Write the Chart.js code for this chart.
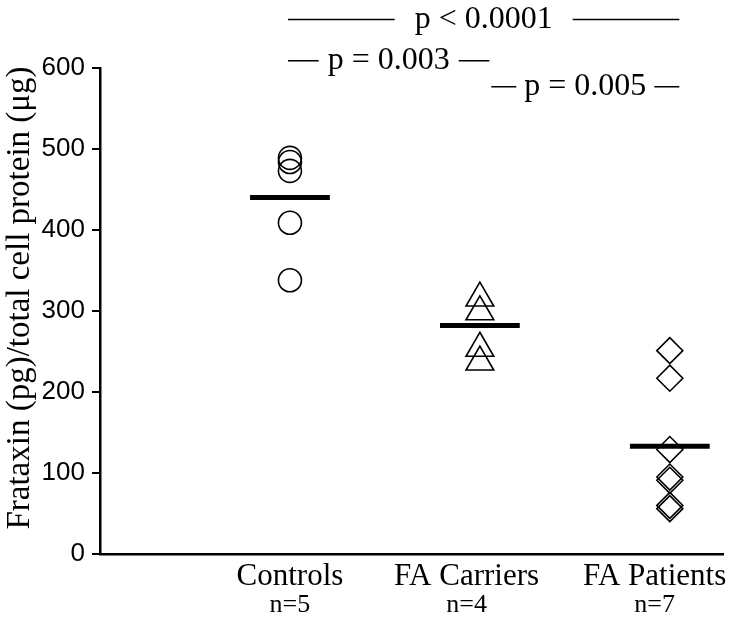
<!DOCTYPE html>
<html>
<head>
<meta charset="utf-8">
<script src="https://cdn.jsdelivr.net/npm/chart.js@4"></script>
<style>
  html, body { margin: 0; padding: 0; background: #fff; }
  #wrap { width: 750px; height: 619px; }
</style>
</head>
<body>
<div id="wrap"><canvas id="frataxinChart"></canvas></div>
<script>
// data
const groups = ["Controls", "FA Carriers", "FA Patients"];
const groupSizes = ["n=5", "n=4", "n=7"];
const controls = [489, 484, 473, 409, 338];
const carriers = [316, 299, 254, 237];
const patients = [251, 217, 129, 95, 91, 60, 56];
const groupMeans = [440, 282, 133];
const yTicks = [0, 100, 200, 300, 400, 500, 600];
const pValues = ["p < 0.0001", "p = 0.003", "p = 0.005"];
const yTitle = "Frataxin (pg)/total cell protein (μg)";

const serif = "'Liberation Serif', 'Times New Roman', serif";

// label centres under the axis, in group units (not quite under the marks)
const labelAt = [1.0, 1.93, 2.92];

// where each p-value bracket sits (x in group units, y in axis units)
const brackets = [
  { x0: 0.99, x1: 3.05, y: 660, gap: 20 },
  { x0: 0.99, x1: 2.05, y: 609, gap: 9 },
  { x0: 2.06, x1: 3.05, y: 577, gap: 8 },
];

function points(values, group) {
  return values.map(v => ({ x: group, y: v }));
}

let datasets = [
  { data: points(controls, 1), pointStyle: "circle", pointRadius: 11.5 },
  { data: points(carriers, 2), pointStyle: "triangle", pointRadius: 16 },
  { data: points(patients, 3), pointStyle: "rectRot", pointRadius: 13 },
].map(d => Object.assign(d, {
  borderColor: "#000",
  backgroundColor: "rgba(0,0,0,0)",
  pointBorderWidth: 1.6,
}));

// mean bars
groupMeans.forEach((m, i) => {
  datasets.push({
    data: [{ x: i + 1 - 0.21, y: m }, { x: i + 1 + 0.21, y: m }],
    showLine: true,
    borderColor: "#000",
    borderWidth: 5,
    pointRadius: 0,
    clip: false,
  });
});

const annotations = {
  id: "annotations",
  afterDraw(chart) {
    const { ctx, scales: { x, y } } = chart;
    ctx.save();
    ctx.fillStyle = "#000";
    ctx.strokeStyle = "#000";
    ctx.textAlign = "center";
    ctx.textBaseline = "middle";

    // y title, sits a little above the axis middle in the original
    ctx.save();
    ctx.translate(y.left + 20, y.getPixelForValue(316));
    ctx.rotate(-Math.PI / 2);
    ctx.font = "33px " + serif;
    ctx.fillText(yTitle, 0, 0);
    ctx.restore();

    // group names + sizes under the axis
    groups.forEach((g, i) => {
      const px = x.getPixelForValue(labelAt[i]);
      ctx.font = "31px " + serif;
      ctx.fillText(g, px, x.top + 23);
      ctx.font = "26px " + serif;
      ctx.fillText(groupSizes[i], px, x.top + 51);
    });

    // p-value brackets
    ctx.font = "32px " + serif;
    ctx.lineWidth = 1.5;
    pValues.forEach((txt, i) => {
      const b = brackets[i];
      const x0 = x.getPixelForValue(b.x0);
      const x1 = x.getPixelForValue(b.x1);
      const py = y.getPixelForValue(b.y);
      const mid = (x0 + x1) / 2;
      const half = ctx.measureText(txt).width / 2;
      ctx.fillText(txt, mid, py);
      ctx.beginPath();
      ctx.moveTo(x0, py);
      ctx.lineTo(mid - half - b.gap, py);
      ctx.moveTo(mid + half + b.gap, py);
      ctx.lineTo(x1, py);
      ctx.stroke();
    });
    ctx.restore();
  }
};

new Chart(document.getElementById("frataxinChart"), {
  type: "scatter",
  data: { datasets },
  options: {
    responsive: true,
    maintainAspectRatio: false,
    animation: false,
    events: [],
    layout: { padding: { top: 68, right: 27, left: 0, bottom: 0 } },
    plugins: { legend: { display: false }, tooltip: { enabled: false } },
    scales: {
      x: {
        type: "linear",
        min: 0,
        max: 3.28,
        ticks: { display: false },
        grid: { display: false },
        border: { color: "#000", width: 2.5 },
        afterFit(s) { s.height = 65; },
      },
      y: {
        min: 0,
        max: 600,
        afterBuildTicks(s) { s.ticks = yTicks.map(v => ({ value: v })); },
        ticks: {
          color: "#000",
          padding: 7,
          font: { family: "'Liberation Sans', Arial, sans-serif", size: 26 },
        },
        grid: { drawOnChartArea: false, tickLength: 8, color: "#000", lineWidth: 2 },
        border: { color: "#000", width: 2.5 },
        afterFit(s) { s.width = 100; },
      }
    }
  },
  plugins: [annotations]
});
</script>
</body>
</html>
